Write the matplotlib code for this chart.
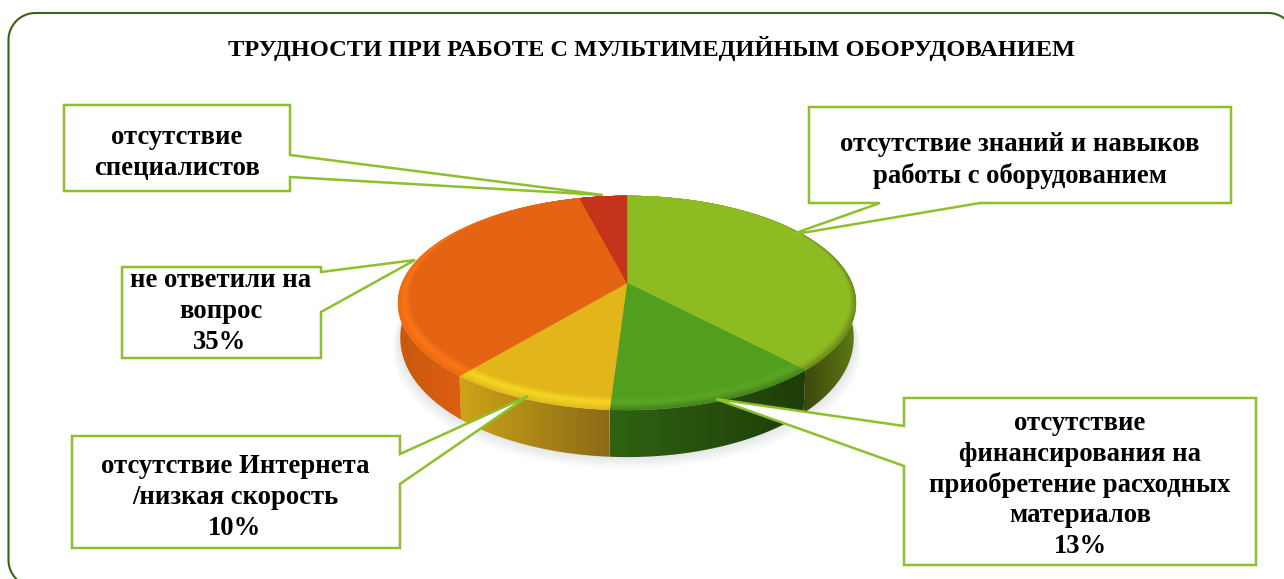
import numpy as np
import matplotlib
matplotlib.use("Agg")
import matplotlib.pyplot as plt
from matplotlib.colors import to_rgb, LinearSegmentedColormap
from matplotlib.patches import Polygon
from matplotlib.path import Path
from matplotlib.transforms import Transform, Affine2D

# ---- data ----
categories = ["отсутствие знаний и навыков работы с оборудованием",
              "отсутствие финансирования на приобретение расходных материалов",
              "отсутствие Интернета /низкая скорость",
              "не ответили на вопрос",
              "отсутствие специалистов"]
values = [38, 13, 10, 35, 4]
title_text = "ТРУДНОСТИ ПРИ РАБОТЕ С МУЛЬТИМЕДИЙНЫМ ОБОРУДОВАНИЕМ"

face_colors = ["#8DBB22", "#529F20", "#E2B61A", "#E46414", "#C4331A"]
rim_colors = ["#8DBB22", "#5CA526", "#F6D524", "#FB7416", "#C4331A"]
edge_colors = ["#6F8C1A", "#44851A", "#E2BC1C", "#EE6A10", "#C4331A"]
side_grads = [("#3D470D", "#5E7C14"), ("#2F6212", "#1E3D08"),
              ("#CDA418", "#8A6A16"), ("#C8590F", "#DC5F0E"), ("#A02A14", "#A02A14")]

# (x, baseline y, text)
label_lines = [
    (177, 144, "отсутствие"), (177, 175, "специалистов"),
    (1020, 151, "отсутствие знаний и навыков"), (1020, 183, "работы с оборудованием"),
    (221, 287, "не ответили на"), (221, 318, "вопрос"), (220, 349, "35%"),
    (235, 473, "отсутствие Интернета"), (235, 504, "/низкая скорость"), (235, 535, "10%"),
    (1080, 430, "отсутствие"), (1080, 461, "финансирования на"),
    (1080, 492, "приобретение расходных"), (1080, 522, "материалов"), (1080, 553, "13%"),
]

callouts = [
    [(64, 105), (290, 105), (290, 155), (603, 195), (290, 177), (290, 191), (64, 191)],
    [(809, 107), (1231, 107), (1231, 203), (980, 203), (790, 235), (880, 203), (809, 203)],
    [(122, 267), (321, 267), (321, 272), (415, 260), (321, 312), (321, 358), (122, 358)],
    [(72, 436), (400, 436), (400, 454), (528, 396), (400, 484), (400, 548), (72, 548)],
    [(904, 398), (1256, 398), (1256, 565), (904, 565), (904, 466), (716, 399), (904, 426)],
]

LINE = "#8DC02C"
CX, CY, AX, A, C = 627.0, 283.0, 225.0, -50.4, 0.187


def project(u, v):
    d = 1 + C * v
    return CX + AX * u / d, (CY + A * v) / d


class Perspective(Transform):
    input_dims = output_dims = 2
    is_separable = False
    has_inverse = False

    def __init__(self, bevel=0.0):
        super().__init__()
        self.bevel = bevel

    def transform_non_affine(self, values):
        p = np.asarray(values, dtype=float)
        rho = np.hypot(p[:, 0], p[:, 1])
        sv = np.divide(p[:, 1], rho, out=np.zeros_like(rho), where=rho > 0)
        f = 1 - self.bevel * (1 - sv) / 2
        x, y = project(p[:, 0] * f, p[:, 1] * f)
        return np.column_stack([x, y])

    def transform_path_non_affine(self, path):
        # flatten the curves finely before bending them
        big = Affine2D().scale(2000)
        polys = path.to_polygons(transform=big, closed_only=True)
        if not polys:
            return path
        verts = np.concatenate(polys) / 2000
        codes = np.full(len(verts), Path.LINETO)
        n = 0
        for q in polys:
            codes[n] = Path.MOVETO
            codes[n + len(q) - 1] = Path.CLOSEPOLY
            n += len(q)
        return Path(self.transform_non_affine(verts), codes)


def lower(theta, grow=0.0):
    u, v = np.cos(theta), np.sin(theta)
    x, y = project(u, v)
    return CX + (x - CX) * (0.99 + grow), y + 32 - 15 * v


fig = plt.figure(figsize=(12.84, 5.79), dpi=100, facecolor="white")
ax = fig.add_axes([0, 0, 1, 1])

# soft shadow under the pie
tt = np.linspace(0, 2 * np.pi, 240)
for k in range(9):
    sx, sy = lower(tt, grow=0.004 * k)
    ax.add_patch(Polygon(np.column_stack([sx, sy + 1.5 * k]), closed=True, fc="#7C8096",
                         ec="none", alpha=0.025, zorder=1))

# pie sides
ends = 90 - 3.6 * np.cumsum(values)
starts = np.concatenate([[90], ends[:-1]])
for a0, a1, (c0, c1) in zip(starts, ends, side_grads):
    th = np.radians(np.linspace(a0, a1, 80))
    tx, ty = project(np.cos(th), np.sin(th))
    bx, by = lower(th)
    poly = np.column_stack([np.r_[tx, bx[::-1]], np.r_[ty, by[::-1]]])
    front = np.sin(th) < 0.2
    xs = np.r_[tx[front], bx[front]] if front.any() else tx
    x0, x1 = xs.min(), xs.max()
    cmap = LinearSegmentedColormap.from_list("g", [c0, c1])
    im = ax.imshow(np.linspace(0, 1, 128)[None, :], cmap=cmap, aspect="auto",
                   extent=(x0, x1, 500, 150), zorder=2, interpolation="bilinear")
    patch = Polygon(poly, closed=True, transform=ax.transData, fc="none", ec="none")
    ax.add_patch(patch)
    im.set_clip_path(patch)

# pie top: layered bevel
layers = [(0.0, 0.0), (0.012, 0.3), (0.024, 0.6), (0.036, 0.85), (0.046, 1.0),
          (0.056, 1.25), (0.066, 1.5), (0.076, 1.75), (0.086, 2.0)]
for order, (bev, t) in enumerate(layers):
    cols = []
    for e, r, f in zip(edge_colors, rim_colors, face_colors):
        e, r, f = map(np.array, (to_rgb(e), to_rgb(r), to_rgb(f)))
        cols.append(tuple(e + (r - e) * t if t <= 1 else r + (f - r) * (t - 1)))
    wedges, _ = ax.pie(values, colors=cols, startangle=90, counterclock=False, radius=1,
                       wedgeprops=dict(linewidth=0.3))
    tr = Perspective(bev) + ax.transData
    for w, c in zip(wedges, cols):
        w.set_edgecolor(c)
        w.set_transform(tr)
        w.set_zorder(3 + order * 0.01)

ax.set_aspect("auto")
ax.set_xlim(0, 1284)
ax.set_ylim(579, 0)
ax.axis("off")

# outer frame (rounded corners, running off the canvas on the right and bottom)
L, T, R, B, RAD = 8.5, 13.0, 1295.0, 587.0, 27.0
corners = [(L + RAD, T + RAD, 180, 270), (R - RAD, T + RAD, 270, 360),
           (R - RAD, B - RAD, 0, 90), (L + RAD, B - RAD, 90, 180)]
fx, fy = [], []
for cx, cy, d0, d1 in corners:
    a = np.radians(np.linspace(d0, d1, 30))
    fx += list(cx + RAD * np.cos(a))
    fy += list(cy + RAD * np.sin(a))
ax.add_patch(Polygon(np.column_stack([fx, fy]), closed=True, fc="none", ec="#3A6410",
                     lw=1.5, zorder=0.5, clip_on=True))

# callouts
for pts in callouts:
    ax.add_patch(Polygon(pts, closed=True, fc="white", ec=LINE, lw=1.8, joinstyle="miter", zorder=5))

ff = ["Liberation Serif", "DejaVu Serif"]
ax.text(651, 56, title_text, ha="center", va="baseline", fontsize=17.6, fontweight="bold",
        family=ff, color="black", zorder=6)
for x, y, s in label_lines:
    ax.text(x, y, s, ha="center", va="baseline", fontsize=19.2, fontweight="bold",
            family=ff, color="black", zorder=6)

fig.savefig("out.png", dpi=100, facecolor="white")
